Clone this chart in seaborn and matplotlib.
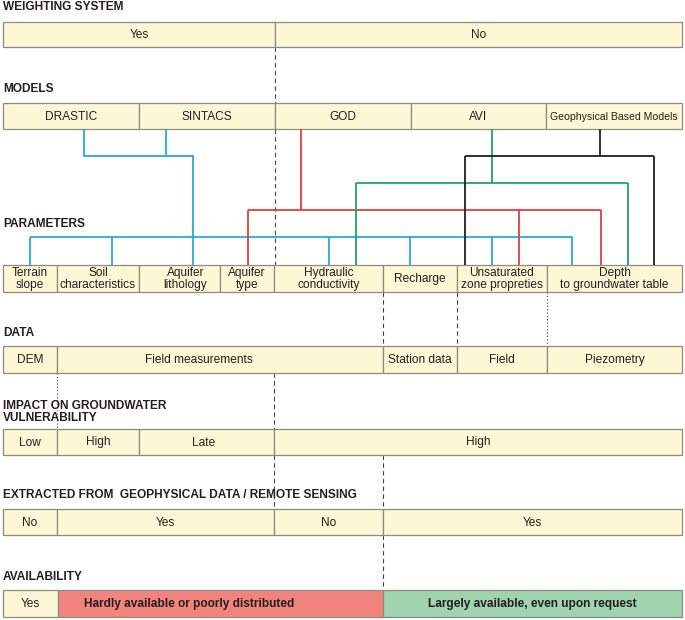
"""Flow diagram of groundwater vulnerability models, parameters and data."""

import matplotlib.pyplot as plt
import seaborn as sns

###################################################################################################
###################################################################################################

# Section titles and their vertical position (pixels from top)
titles = ['WEIGHTING SYSTEM', 'MODELS', 'PARAMETERS', 'DATA',
          'IMPACT ON GROUNDWATER\nVULNERABILITY',
          'EXTRACTED FROM  GEOPHYSICAL DATA / REMOTE SENSING', 'AVAILABILITY']

# Row cells: breakpoints along the width and the labels of each cell
weight_breaks = [3, 275, 682]
weight_labels = ['Yes', 'No']

model_breaks = [3, 139, 275, 411, 546, 682]
model_labels = ['DRASTIC', 'SINTACS', 'GOD', 'AVI', 'Geophysical Based Models']

param_breaks = [3, 57, 139, 220, 274, 383, 457, 547, 682]
param_labels = ['Terrain\nslope', 'Soil\ncharacteristics', 'Aquifer\nlithology', 'Aquifer\ntype',
                'Hydraulic\nconductivity', 'Recharge', 'Unsaturated\nzone propreties',
                'Depth\nto groundwater table']

data_breaks = [3, 57, 383, 457, 547, 682]
data_labels = ['DEM', 'Field measurements', 'Station data', 'Field', 'Piezometry']

impact_breaks = [3, 57, 139, 274, 682]
impact_labels = ['Low', 'High', 'Late', 'High']

extract_breaks = [3, 57, 274, 383, 682]
extract_labels = ['No', 'Yes', 'No', 'Yes']

avail_breaks = [3, 58, 383, 682]
avail_labels = ['Yes', 'Hardly available or poorly distributed', 'Largely available, even upon request']
avail_kind = ['plain', 'poor', 'good']

# Links from each model to the parameters it uses
links = {
    'DRASTIC/SINTACS': [[(84, 129), (84, 156), (193, 156), (193, 265)],
                        [(166, 129), (166, 156)],
                        [(30, 237), (573, 237)]]
                       + [[(x, 237), (x, 265)] for x in [30, 112, 329, 410, 492, 572]],
    'GOD': [[(301, 129), (301, 210)], [(248, 210), (601, 210)]]
           + [[(x, 210), (x, 265)] for x in [248, 519, 601]],
    'AVI': [[(492, 129), (492, 183)], [(356, 183), (628, 183)]]
           + [[(x, 183), (x, 265)] for x in [356, 628]],
    'Geophysical': [[(600, 129), (600, 156)], [(465, 156), (654, 156)]]
                   + [[(x, 156), (x, 265)] for x in [465, 654]],
}

###################################################################################################
###################################################################################################

CREAM = '#fdf7d6'
EDGE = '#8c8c80'
fills = {'plain': CREAM, 'poor': '#f2847d', 'good': '#9fd4ae'}
link_colors = {'DRASTIC/SINTACS': '#2aa9df', 'GOD': '#e53e3a',
               'AVI': '#1ea56b', 'Geophysical': '#231f20'}

title_y = [7, 89, 224, 333, 412, 495, 577]
rows = [
    (weight_breaks, weight_labels, (22, 47)),
    (model_breaks, model_labels, (103, 129)),
    (param_breaks, param_labels, (265, 292)),
    (data_breaks, data_labels, (346, 373)),
    (impact_breaks, impact_labels, (429, 455)),
    (extract_breaks, extract_labels, (509, 535)),
]
label_shift = {'Aquifer\nlithology': 6, 'Field measurements': -21, 'Late': -3,
               'Hardly available or poorly distributed': -31}

sns.set_theme(style='white')
plt.rcParams['font.family'] = ['Liberation Sans Narrow', 'Liberation Sans', 'DejaVu Sans']

fig = plt.figure(figsize=[6.85, 6.2], dpi=100)
ax = fig.add_axes([0, 0, 1, 1])
ax.set_xlim(0, 685)
ax.set_ylim(620, 0)
ax.axis('off')


def draw_row(breaks, labels, yspan, kinds=None):
    """Draws one row of boxed cells with centred labels."""
    y0, y1 = yspan
    for i, lab in enumerate(labels):
        left, right = breaks[i], breaks[i + 1]
        kind = kinds[i] if kinds else 'plain'
        ax.barh((y0 + y1) / 2, right - left, left=left, height=y1 - y0,
                color=fills[kind], edgecolor=EDGE, linewidth=0.9, zorder=2)
        bold = kind != 'plain'
        size = 7.6 if lab == 'Geophysical Based Models' else 8.6
        ax.text((left + right) / 2 + label_shift.get(lab, 0), (y0 + y1) / 2 + 0.5, lab,
                ha='center', va='center', fontsize=size, linespacing=1.0,
                fontweight='bold' if bold else 'normal', color='#231f20', zorder=4)


# Dashed / dotted guides between rows
guides = [(275, 47, 103, (0, (4, 3))), (275, 129, 265, (0, (4, 3))),
          (383, 292, 346, (0, (4, 3))), (457, 292, 346, (0, (4, 3))),
          (547, 292, 346, (0, (1, 2))), (57, 373, 429, (0, (1, 2))),
          (274, 373, 429, (0, (4, 3))), (274, 455, 509, (0, (4, 3))),
          (383, 455, 509, (0, (4, 3))), (383, 535, 590, (0, (4, 3)))]
for x, ya, yb, ls in guides:
    ax.plot([x, x], [ya, yb], color='#444444', linewidth=0.8, linestyle=ls, zorder=1)

for name, segs in links.items():
    for seg in segs:
        xs, ys = zip(*seg)
        ax.plot(xs, ys, color=link_colors[name], linewidth=1.3, zorder=3,
                solid_capstyle='butt', solid_joinstyle='miter')

for breaks, labels, yspan in rows:
    draw_row(breaks, labels, yspan)
draw_row(avail_breaks, avail_labels, (590, 617), avail_kind)

for t, y in zip(titles, title_y):
    ax.text(3, y, t, ha='left', va='center', fontsize=8.6, fontweight='bold',
            color='#231f20', linespacing=1.05)

fig.savefig('out.png', dpi=100)
